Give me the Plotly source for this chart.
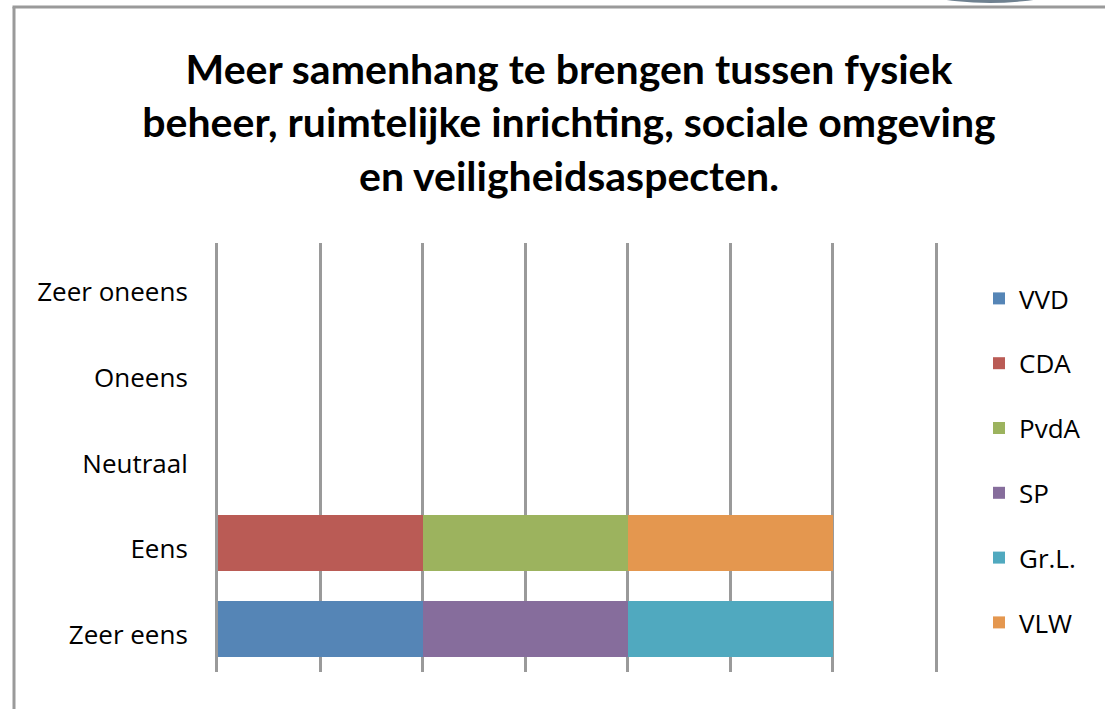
import plotly.graph_objects as go

categories = ["Zeer eens", "Eens", "Neutraal", "Oneens", "Zeer oneens"]
series_names = ["VVD", "CDA", "PvdA", "SP", "Gr.L.", "VLW"]
vvd = [1, 0, 0, 0, 0]
cda = [0, 1, 0, 0, 0]
pvda = [0, 1, 0, 0, 0]
sp = [1, 0, 0, 0, 0]
grl = [1, 0, 0, 0, 0]
vlw = [0, 1, 0, 0, 0]
series_values = [vvd, cda, pvda, sp, grl, vlw]
colors = ["#5585B6", "#BA5B55", "#9CB35E", "#866D9C", "#50A9BF", "#E4974F"]

title = "Meer samenhang te brengen tussen fysiek<br>beheer, ruimtelijke inrichting, sociale omgeving<br>en veiligheidsaspecten."

W, H = 1105, 709
L, R, T, B = 218, 935, 243, 672
GRID = "#9A9A9A"

fig = go.Figure()
for i, (name, vals) in enumerate(zip(series_names, series_values)):
    fig.add_trace(go.Bar(
        y=categories, x=vals, name=name, orientation="h",
        marker=dict(color=colors[i], line=dict(width=0)),
        legendgroup=name,
    ))

def px(x):
    return (x - L) / (R - L)

def py(y):
    return (B - y) / (B - T)

shapes = [
    dict(type="line", xref="paper", yref="paper", x0=px(14), x1=px(14), y0=py(712), y1=py(7),
         line=dict(color=GRID, width=3)),
    dict(type="line", xref="paper", yref="paper", x0=px(12.5), x1=px(1110), y0=py(7), y1=py(7),
         line=dict(color=GRID, width=3)),
    dict(type="circle", xref="paper", yref="paper", x0=px(905), x1=px(1075), y0=py(3), y1=py(-40),
         fillcolor="#6F8190", line=dict(width=0), layer="above"),
]

FONT = "Open Sans, sans-serif"

fig.update_layout(
    width=W, height=H,
    barmode="stack",
    bargap=0.35,
    paper_bgcolor="white",
    plot_bgcolor="white",
    margin=dict(l=L, r=W - R, t=T, b=H - B, pad=0, autoexpand=False),
    font=dict(family=FONT, color="#000000"),
    title=dict(text=title, x=px(569), xanchor="center", xref="paper",
               y=1 - 84 / H, yanchor="top", automargin=False,
               font=dict(size=41, family="Lato, sans-serif", weight="bold", color="#000")),
    xaxis=dict(range=[0, 3.5], dtick=0.5, showticklabels=False, showgrid=True,
               gridcolor=GRID, gridwidth=3, zeroline=False, showline=False,
               automargin=False, fixedrange=True),
    yaxis=dict(showgrid=False, zeroline=False, showline=True, mirror=True,
               linecolor=GRID, linewidth=3, ticks="", automargin=False,
               tickfont=dict(size=26, family=FONT), ticklabelstandoff=22,
               ticklabelshift=6),
    legend=dict(x=px(979), y=py(275), xanchor="left", yanchor="top",
                font=dict(size=26, family=FONT),
                tracegroupgap=28, traceorder="grouped", bgcolor="rgba(0,0,0,0)"),
    shapes=shapes,
    showlegend=True,
)

fig.write_html("out.html", config={"displayModeBar": False},
               post_script="document.body.style.margin='0px';")
